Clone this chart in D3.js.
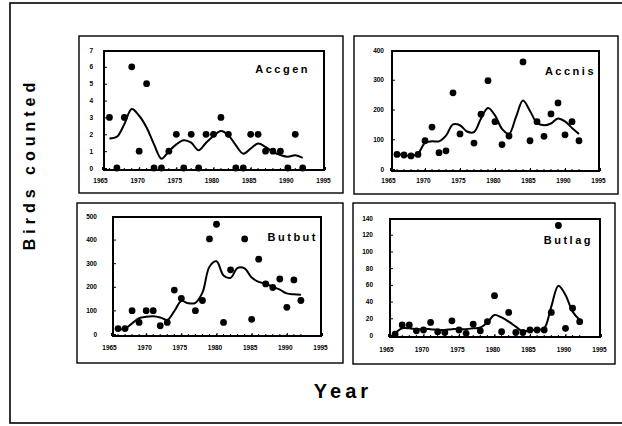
<!DOCTYPE html>
<html lang="en">
<head>
<meta charset="UTF-8">
<title>Birds counted</title>
<script src="https://cdn.jsdelivr.net/npm/d3@7"></script>
<style>
  body { margin: 0; background: #fff; }
  svg { display: block; }
  text { font-family: "Liberation Sans", Arial, sans-serif; font-weight: bold; fill: #000; }
</style>
</head>
<body>
<svg id="chart" width="622" height="426"></svg>
<script>
// Survey years
const years = [1966, 1967, 1968, 1969, 1970, 1971, 1972, 1973, 1974, 1975, 1976, 1977, 1978,
  1979, 1980, 1981, 1982, 1983, 1984, 1985, 1986, 1987, 1988, 1989, 1990, 1991, 1992];
const xTicks = [1965, 1970, 1975, 1980, 1985, 1990, 1995];

// Accgen
const accgenCounts = [3, 0, 3, 6, 1, 5, 0, 0, 1, 2, 0, 2, 0, 2, 2, 3, 2, 0, 0, 2, 2, 1, 1, 1, 0, 2, 0];
const accgenTrend = [1.75, 1.85, 2.6, 3.5, 3.1, 2.4, 1.4, 0.55, 1.0, 1.4, 1.65, 1.5, 1.05, 1.5, 1.9,
  2.2, 1.95, 1.35, 0.85, 1.15, 1.45, 1.25, 0.95, 0.77, 0.67, 0.75, 0.6];
const accgenTicks = [0, 1, 2, 3, 4, 5, 6, 7];

// Accnis
const accnisCounts = [49, 47, 44, 49, 95, 141, 55, 61, 256, 118, null, 87, 184, 297, 159, 82, 111,
  null, 360, 95, 159, 110, 185, 222, 115, 159, 95];
const accnisTrend = [52, 47, 44, 52, 88, 93, 93, 112, 150, 147, 126, 124, 170, 205, 180, 135, 118,
  175, 230, 195, 155, 147, 153, 170, 160, 138, 118];
const accnisTicks = [0, 100, 200, 300, 400];

// Butbut
const butbutCounts = [23, 23, 99, 49, 99, 99, 35, 49, 186, 151, null, 99, 142, 403, 465, 49, 272,
  null, 403, 62, 317, 212, 197, 233, 113, 229, 142];
const butbutTrend = [19, 23, 45, 67, 73, 75, 70, 60, 97, 140, 130, 132, 175, 285, 308, 248, 238,
  280, 278, 239, 221, 213, 200, 188, 172, 168, 166];
const butbutTicks = [0, 100, 200, 300, 400, 500];

// Butlag
const butlagCounts = [1, 12, 12, 5, 6, 15, 4, 3, 17, 6, 2, 13, 5, 16, 47, 4, 27, 3, 3, 6, 6, 6, 27,
  131, 8, 32, 16];
const butlagTrend = [2, 8, 8, 7, 7, 7, 6, 6, 7, 7, 7, 8, 9, 15, 24, 21, 16, 10, 4, 6, 6, 8, 34, 59,
  48, 28, 18];
const butlagTicks = [0, 20, 40, 60, 80, 100, 120, 140];

// Panel layout: outer frame, plot area, label gaps
const panels = [
  { name: "Accgen", counts: accgenCounts, trend: accgenTrend, ticks: accgenTicks,
    frame: [79, 36, 343, 193], plot: [104, 51, 324, 170], yGap: 11, xGap: 8, nameY: 73, nameX: 310 },
  { name: "Accnis", counts: accnisCounts, trend: accnisTrend, ticks: accnisTicks,
    frame: [354, 36, 618, 194], plot: [392, 51, 599, 171], yGap: 8, xGap: 7, nameY: 75, nameX: 596 },
  { name: "Butbut", counts: butbutCounts, trend: butbutTrend, ticks: butbutTicks,
    frame: [77, 203, 343, 363], plot: [113, 217, 321, 336], yGap: 16, xGap: 9, nameY: 241, nameX: 318 },
  { name: "Butlag", counts: butlagCounts, trend: butlagTrend, ticks: butlagTicks,
    frame: [353, 203, 615, 364], plot: [390, 219, 600, 337], yGap: 17, xGap: 10, nameY: 244, nameX: 593 }
];

const svg = d3.select("#chart");

// outer figure border
svg.append("rect")
  .attr("x", 10).attr("y", 3).attr("width", 620).attr("height", 420)
  .attr("fill", "none").attr("stroke", "#000").attr("stroke-width", 1.6);

panels.forEach(function(p) {
  const [fx0, fy0, fx1, fy1] = p.frame;
  const [px0, py0, px1, py1] = p.plot;
  const yMax = p.ticks[p.ticks.length - 1];

  const x = d3.scaleLinear().domain([1965, 1995]).range([px0 - 2, px1 + 1]);
  const y = d3.scaleLinear().domain([0, yMax]).range([py1 - 2, py0 - 1]);

  svg.append("rect")
    .attr("x", fx0).attr("y", fy0).attr("width", fx1 - fx0).attr("height", fy1 - fy0)
    .attr("fill", "none").attr("stroke", "#000").attr("stroke-width", 1.4);

  // y axis
  const yAxis = svg.append("g")
    .attr("transform", "translate(" + px0 + ",0)")
    .call(d3.axisLeft(y).tickValues(p.ticks).tickSize(-3).tickPadding(p.yGap)
      .tickFormat(d3.format("d")));
  yAxis.select(".domain").remove();
  yAxis.selectAll("text").attr("font-size", 6.5).attr("font-family", null);

  // x axis
  const xAxis = svg.append("g")
    .attr("transform", "translate(0," + py1 + ")")
    .call(d3.axisBottom(x).tickValues(xTicks).tickSize(-3).tickPadding(p.xGap)
      .tickFormat(d3.format("d")));
  xAxis.select(".domain").remove();
  xAxis.selectAll("text").attr("font-size", 6.5).attr("font-family", null).attr("dx", -2);

  // minor year ticks along the bottom
  svg.append("g").selectAll("line")
    .data(years)
    .enter().append("line")
    .attr("x1", function(d) { return x(d); })
    .attr("x2", function(d) { return x(d); })
    .attr("y1", py1).attr("y2", py1 - 2)
    .attr("stroke", "#000");

  // plot frame
  svg.append("rect")
    .attr("x", px0).attr("y", py0).attr("width", px1 - px0).attr("height", py1 - py0)
    .attr("fill", "none").attr("stroke", "#000").attr("stroke-width", 2);

  // smoothed trend
  const line = d3.line()
    .x(function(d, i) { return x(years[i]); })
    .y(function(d) { return y(d); })
    .curve(d3.curveCatmullRom);
  svg.append("path")
    .datum(p.trend)
    .attr("d", line)
    .attr("fill", "none")
    .attr("stroke", "#000")
    .attr("stroke-width", 2);

  // yearly counts
  svg.append("g").selectAll("circle")
    .data(p.counts.map(function(v, i) { return { year: years[i], value: v }; })
      .filter(function(d) { return d.value !== null; }))
    .enter().append("circle")
    .attr("cx", function(d) { return x(d.year); })
    .attr("cy", function(d) { return y(d.value); })
    .attr("r", 3.4)
    .attr("fill", "#000");

  svg.append("text")
    .attr("x", p.nameX).attr("y", p.nameY)
    .attr("text-anchor", "end")
    .attr("font-size", 11)
    .attr("letter-spacing", 2.5)
    .text(p.name);
});

svg.append("text")
  .attr("transform", "translate(35,164) rotate(-90)")
  .attr("text-anchor", "middle")
  .attr("font-size", 16)
  .attr("letter-spacing", 5)
  .text("Birds counted");

svg.append("text")
  .attr("x", 343).attr("y", 398)
  .attr("text-anchor", "middle")
  .attr("font-size", 20)
  .attr("letter-spacing", 4)
  .text("Year");
</script>
</body>
</html>
